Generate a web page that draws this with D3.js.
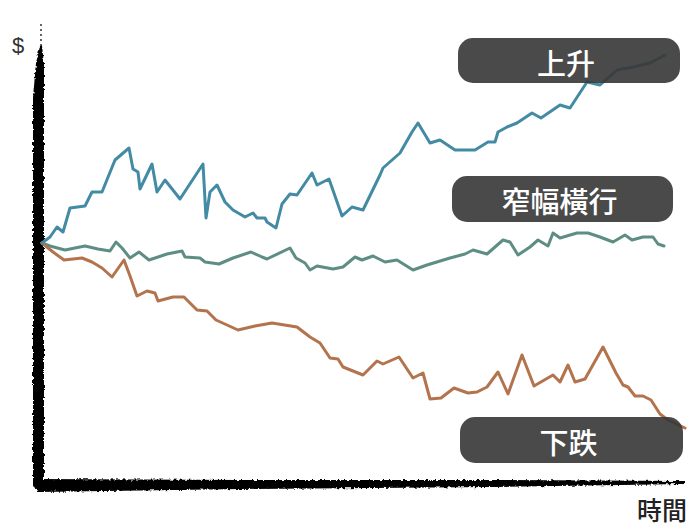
<!DOCTYPE html>
<html>
<head>
<meta charset="utf-8">
<script src="https://cdn.jsdelivr.net/npm/d3@7/dist/d3.min.js"></script>
<style>
  html, body { margin: 0; padding: 0; background: #fff; }
  svg { display: block; }
</style>
</head>
<body>
<svg id="chart" width="690" height="529"></svg>
<script>
// Price paths: [day, change from the starting price]
const rising = [[0,0],[8,6],[15,16],[21,11],[28,35],[43,37],[50,51],[60,51],[73,83],[87,95],[91,74],[96,71],[98,54],[110,79],[115,51],[123,63],[138,44],[161,79],[164,25],[168,51],[175,58],[183,41],[191,33],[203,26],[211,30],[215,25],[223,25],[225,21],[234,15],[240,39],[248,49],[255,48],[270,70],[275,58],[287,64],[300,27],[310,36],[321,33],[338,68],[341,75],[358,90],[370,111],[376,120],[388,100],[398,103],[413,93],[433,93],[446,101],[453,101],[456,111],[465,116],[475,120],[490,130],[499,125],[518,138],[528,135],[545,161],[558,158],[575,173],[591,176],[608,180],[623,188]];

const sideways = [[0,0],[8,-3],[23,-7],[43,-3],[56,-6],[68,-8],[74,1],[80,-5],[88,-15],[97,-9],[107,-17],[125,-11],[140,-8],[143,-14],[158,-15],[163,-19],[177,-21],[191,-15],[209,-9],[220,-14],[225,-16],[248,-5],[254,-15],[263,-20],[268,-27],[275,-23],[291,-26],[301,-24],[313,-14],[320,-17],[331,-13],[343,-19],[355,-17],[371,-27],[385,-22],[408,-15],[423,-11],[431,-7],[445,-11],[461,3],[468,1],[476,-12],[488,-4],[496,3],[506,-3],[511,10],[518,5],[535,10],[546,10],[558,6],[571,1],[583,8],[590,3],[601,6],[611,6],[616,-1],[622,-3]];

const falling = [[0,0],[11,-9],[22,-17],[40,-15],[50,-19],[60,-25],[70,-34],[82,-17],[88,-33],[95,-53],[105,-48],[113,-50],[116,-58],[131,-54],[142,-54],[155,-67],[165,-68],[174,-77],[185,-82],[196,-87],[213,-83],[230,-80],[255,-84],[268,-94],[278,-100],[288,-115],[296,-116],[301,-124],[321,-132],[335,-118],[341,-121],[357,-114],[371,-135],[381,-130],[388,-156],[399,-155],[412,-145],[426,-150],[435,-149],[445,-144],[456,-129],[466,-151],[480,-112],[492,-143],[511,-132],[518,-139],[526,-122],[533,-139],[543,-136],[561,-104],[574,-130],[581,-142],[586,-144],[593,-153],[601,-153],[609,-157],[618,-171],[626,-177],[643,-185]];

const trendNames = ["上升", "窄幅橫行", "下跌"];
const axisLabels = { y: "$", x: "時間" };

const svg = d3.select("#chart");

const x = d3.scaleLinear().domain([0, 643]).range([42, 685]);
const y = d3.scaleLinear().domain([-245, 205]).range([488, 38]);

// Rough, brushed edge for the hand-drawn axes
const defs = svg.append("defs");
const rough = defs.append("filter").attr("id", "rough")
  .attr("x", "-20%").attr("y", "-20%").attr("width", "140%").attr("height", "140%");
rough.append("feTurbulence").attr("type", "fractalNoise")
  .attr("baseFrequency", "0.35").attr("numOctaves", 3).attr("seed", 7).attr("result", "noise");
rough.append("feDisplacementMap").attr("in", "SourceGraphic").attr("in2", "noise")
  .attr("scale", 4).attr("xChannelSelector", "R").attr("yChannelSelector", "G");

const axisG = svg.append("g").attr("filter", "url(#rough)");
const [yBottom, yTop] = y.range();
const [xLeft, xRight] = x.range();

// vertical brush stroke, tapering at the top
axisG.append("path")
  .attr("fill", "#000")
  .attr("d", d3.line()([
    [xLeft - 2, yTop + 8], [xLeft, yTop + 8], [xLeft + 2, yTop + 25],
    [xLeft + 2, yBottom + 4], [xLeft - 2, yBottom + 4], [xLeft - 9, yBottom - 2],
    [xLeft - 9, yTop + 60], [xLeft - 6, yTop + 25]
  ]) + "Z");

// horizontal brush stroke, thinning to the right
axisG.append("path")
  .attr("fill", "#000")
  .attr("d", d3.line()([
    [xLeft - 6, yBottom - 9], [xLeft + 200, yBottom - 8], [xLeft + 450, yBottom - 8],
    [xRight, yBottom - 7], [xRight, yBottom - 4], [xLeft + 450, yBottom - 1],
    [xLeft + 200, yBottom + 1], [xLeft - 4, yBottom + 4]
  ]) + "Z");

// faint dotted tip above the vertical axis
svg.append("line")
  .attr("x1", xLeft - 1).attr("x2", xLeft - 1)
  .attr("y1", yTop - 14).attr("y2", yTop + 8)
  .attr("stroke", "#333").attr("stroke-width", 1.5)
  .attr("stroke-dasharray", "2,3");

// price lines
const line = d3.line().x(d => x(d[0])).y(d => y(d[1]));
const series = [
  { data: sideways, color: "#5e8d84" },
  { data: falling, color: "#b3734c" },
  { data: rising, color: "#438ba4" }
];
svg.append("g").selectAll("path").data(series).join("path")
  .attr("d", d => line(d.data))
  .attr("fill", "none")
  .attr("stroke", d => d.color)
  .attr("stroke-width", 3)
  .attr("stroke-linejoin", "round")
  .attr("stroke-linecap", "round");

// trend label pills
const pills = [
  { x0: 458, x1: 680, y0: 38, y1: 83 },
  { x0: 452, x1: 673, y0: 176, y1: 222 },
  { x0: 460, x1: 683, y0: 417, y1: 463 }
];
const pillG = svg.append("g").selectAll("g").data(trendNames).join("g");
pillG.append("rect")
  .attr("x", (d, i) => pills[i].x0)
  .attr("y", (d, i) => pills[i].y0)
  .attr("width", (d, i) => pills[i].x1 - pills[i].x0)
  .attr("height", (d, i) => pills[i].y1 - pills[i].y0)
  .attr("rx", 15).attr("ry", 15)
  .attr("fill", "#383838")
  .attr("fill-opacity", 0.91);
pillG.append("text")
  .attr("x", (d, i) => (pills[i].x0 + pills[i].x1) / 2 - 3)
  .attr("y", (d, i) => (pills[i].y0 + pills[i].y1) / 2 + 1)
  .attr("text-anchor", "middle")
  .attr("dominant-baseline", "central")
  .attr("fill", "#fff")
  .attr("font-family", "'Noto Sans CJK TC', 'Noto Sans CJK SC', sans-serif")
  .attr("font-weight", 500)
  .attr("font-size", 29)
  .text(d => d);

// axis labels
svg.append("text")
  .attr("x", 12).attr("y", 53)
  .attr("font-family", "'Liberation Sans', Arial, sans-serif")
  .attr("font-size", 22)
  .attr("fill", "#333")
  .text(axisLabels.y);

svg.append("text")
  .attr("x", 687).attr("y", 520)
  .attr("text-anchor", "end")
  .attr("font-family", "'Noto Sans CJK TC', 'Noto Sans CJK SC', sans-serif")
  .attr("font-weight", 500)
  .attr("font-size", 25)
  .attr("fill", "#222")
  .text(axisLabels.x);
</script>
</body>
</html>
